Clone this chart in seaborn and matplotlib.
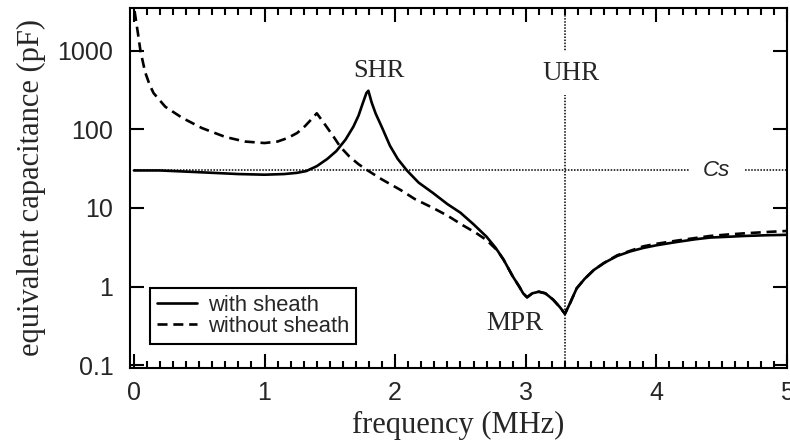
import numpy as np
import pandas as pd
import matplotlib
matplotlib.use("Agg")
import matplotlib.pyplot as plt
import seaborn as sns
from matplotlib.ticker import MultipleLocator, FixedLocator, NullLocator

# ---- data ----
freq_with = [0.0, 0.2, 0.4, 0.6, 0.8, 1.0, 1.15, 1.25, 1.32, 1.40, 1.48, 1.55, 1.62, 1.68,
             1.72, 1.75, 1.78, 1.795, 1.82, 1.85, 1.90, 1.96, 2.02, 2.09, 2.18, 2.29, 2.40,
             2.50, 2.60, 2.70, 2.77, 2.83, 2.90, 2.95, 2.98, 3.01, 3.05, 3.10, 3.15, 3.21,
             3.26, 3.30, 3.34, 3.39, 3.45, 3.52, 3.60, 3.70, 3.80, 3.90, 4.00, 4.16, 4.30,
             4.41, 4.55, 4.67, 4.85, 5.00]
cap_with = [30, 30, 29, 28, 27, 26.5, 27, 28, 29.5, 34, 42, 53, 74, 108,
            150, 210, 290, 310, 220, 160, 105, 62, 42, 30, 21, 15.5, 11.2,
            8.7, 6.2, 4.3, 3.1, 2.2, 1.35, 1.0, 0.82, 0.73, 0.82, 0.86, 0.82, 0.68,
            0.55, 0.45, 0.62, 0.95, 1.25, 1.62, 2.0, 2.45, 2.8, 3.1, 3.35, 3.7, 4.0,
            4.2, 4.3, 4.4, 4.5, 4.55]

freq_without = [0.005, 0.03, 0.05, 0.085, 0.12, 0.15, 0.24, 0.37, 0.52, 0.70, 0.85, 1.0,
                1.10, 1.18, 1.25, 1.31, 1.36, 1.40, 1.44, 1.48, 1.53, 1.58, 1.65, 1.72,
                1.79, 1.90, 2.04, 2.15, 2.29, 2.40, 2.52, 2.62, 2.70, 2.78, 2.83, 2.90,
                2.95, 2.98, 3.01, 3.05, 3.10, 3.15, 3.21, 3.26, 3.30, 3.34, 3.39, 3.45,
                3.52, 3.60, 3.70, 3.80, 3.90, 4.00, 4.16, 4.30, 4.41, 4.55, 4.67, 4.85, 5.00]
cap_without = [3200, 1700, 1000, 540, 370, 290, 194, 140, 104, 80, 70, 67,
               70, 78, 90, 110, 135, 160, 130, 105, 80, 60, 45, 36,
               30, 23, 17, 13, 10, 8, 6, 4.8, 3.9, 2.9, 2.2, 1.35,
               1.0, 0.82, 0.73, 0.82, 0.86, 0.82, 0.68, 0.55, 0.45, 0.62, 0.95, 1.25,
               1.62, 2.0, 2.5, 2.85, 3.25, 3.5, 3.85, 4.15, 4.4, 4.6, 4.75, 4.95, 5.1]

series_labels = ["with sheath", "without sheath"]
cs_value = 30
uhr_freq = 3.3
x_ticks = [0, 1, 2, 3, 4, 5]
y_ticks = [0.1, 1, 10, 100, 1000]
y_ticklabels = ["0.1", "1", "10", "100", "1000"]

# ---- style ----
sns.set_style("ticks")
plt.rcParams['font.family'] = ['Liberation Sans', 'DejaVu Sans']
serif = ['Liberation Serif', 'DejaVu Serif']

fig = plt.figure(figsize=(7.9, 4.43), dpi=100)
ax = fig.add_axes([130/790, 1-368/443, (787-130)/790, (368-8)/443])

df_with = pd.DataFrame({"f": freq_with, "c": cap_with})
df_without = pd.DataFrame({"f": freq_without, "c": cap_without})

sns.lineplot(data=df_with, x="f", y="c", ax=ax, color="black", lw=1.9,
             label=series_labels[0], sort=False, zorder=4)
sns.lineplot(data=df_without, x="f", y="c", ax=ax, color="black", lw=1.9,
             label=series_labels[1], sort=False, zorder=3, dashes=False)
ax.lines[1].set_dashes((3.8, 2.2))

ax.set_yscale("log")
ax.set_xlim(-0.03, 5.0)
ax.set_ylim(0.092, 3500)

# reference lines
ax.plot([0, 5], [cs_value, cs_value], color="black", lw=1.1, ls=(0, (1, 1)), zorder=2)
ax.axvline(uhr_freq, color="black", lw=1.1, ls=(0, (1, 1)), zorder=2)

# annotations
ax.text(1.875, 560, "SHR", family=serif, fontsize=19, ha="center", va="center", zorder=5)
ax.text(uhr_freq + 0.045, 520, "UHR", family=serif, fontsize=19.5, ha="center", va="center",
        zorder=5, bbox=dict(facecolor="white", edgecolor="none", pad=7))
ax.text(2.92, 0.34, "MPR", family=serif, fontsize=19.5, ha="center", va="center", zorder=5)
ax.text(4.46, cs_value, "Cs", fontsize=16, style="italic", ha="center", va="center",
        zorder=5, bbox=dict(facecolor="white", edgecolor="none", pad=10))

# axes cosmetics
for s in ax.spines.values():
    s.set_visible(True)
    s.set_linewidth(1.5)
    s.set_color("black")

ax.xaxis.set_major_locator(FixedLocator(x_ticks))
ax.xaxis.set_minor_locator(MultipleLocator(0.1))
ax.set_xticklabels([str(v) for v in x_ticks])
ax.yaxis.set_major_locator(FixedLocator(y_ticks))
ax.yaxis.set_minor_locator(NullLocator())
ax.set_yticklabels(y_ticklabels)
ax.tick_params(which="both", direction="in", top=True, right=True, color="black", width=1.5)
ax.tick_params(which="major", length=10, labelsize=18)
ax.tick_params(axis="x", which="major", pad=9)
ax.tick_params(axis="y", which="major", pad=12)
ax.tick_params(which="minor", length=5)

ax.set_xlabel("frequency (MHz)", family=serif, fontsize=22, labelpad=4.5)
ax.set_ylabel("equivalent capacitance (pF)", family=serif, fontsize=22, labelpad=8)

leg = ax.legend(loc="lower left", bbox_to_anchor=(0.0304, 0.0667), borderaxespad=0,
                fontsize=15.8, frameon=True, fancybox=False, handlelength=1.8,
                handletextpad=0.5, borderpad=0.33, labelspacing=0.0)
leg.get_frame().set_edgecolor("black")
leg.get_frame().set_linewidth(1.5)
leg.get_frame().set_alpha(1)
leg.get_lines()[1].set_dashes((3.8, 2.2))

fig.savefig("out.png", dpi=100)
